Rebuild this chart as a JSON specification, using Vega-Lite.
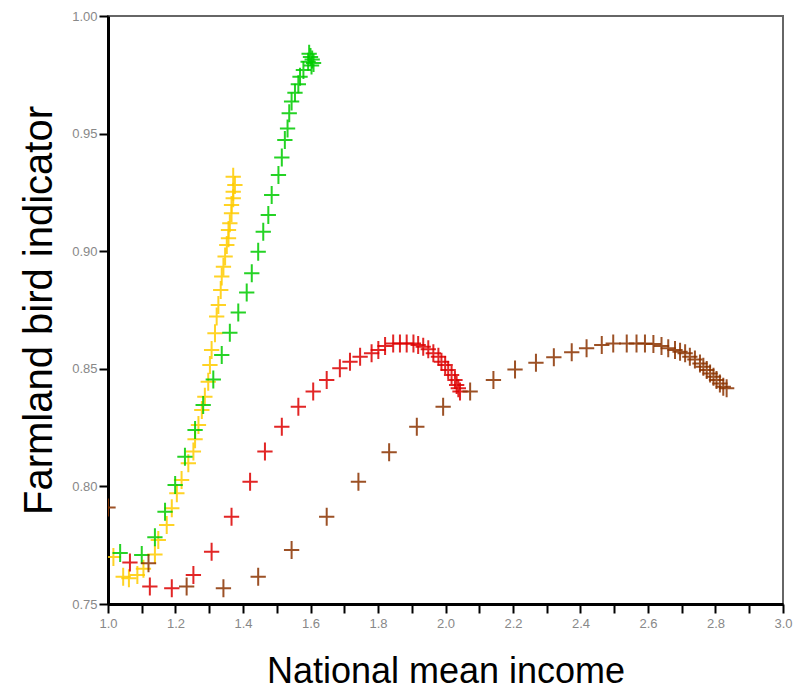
{
  "$schema": "https://vega.github.io/schema/vega-lite/v6.json",
  "width": 675,
  "height": 588,
  "autosize": {"type": "none"},
  "padding": {"left": 108, "top": 16, "right": 24, "bottom": 96},
  "background": "white",
  "config": {
    "view": {"stroke": "#666666", "strokeWidth": 2},
    "font": "Liberation Sans",
    "axis": {
      "zindex": 1,
      "ticks": true,
      "tickSize": 9,
      "tickColor": "#000000",
      "tickWidth": 2,
      "domainColor": "#000000",
      "domainWidth": 3,
      "grid": false,
      "labelFont": "Liberation Sans",
      "labelFontSize": 13,
      "labelColor": "#888888",
      "labelOverlap": false,
      "labelFlush": false,
      "titleFont": "Liberation Sans",
      "titleFontWeight": "normal",
      "titleColor": "#000000"
    }
  },
  "data": {
    "values": [
      {"s": "A", "x": 1.016, "y": 0.770},
      {"s": "A", "x": 1.045, "y": 0.7616},
      {"s": "A", "x": 1.062, "y": 0.761},
      {"s": "A", "x": 1.087, "y": 0.7623},
      {"s": "A", "x": 1.105, "y": 0.765},
      {"s": "A", "x": 1.139, "y": 0.771},
      {"s": "A", "x": 1.149, "y": 0.7772},
      {"s": "A", "x": 1.174, "y": 0.7836},
      {"s": "A", "x": 1.189, "y": 0.7907},
      {"s": "A", "x": 1.204, "y": 0.7971},
      {"s": "A", "x": 1.218, "y": 0.8027},
      {"s": "A", "x": 1.238, "y": 0.8098},
      {"s": "A", "x": 1.253, "y": 0.8148},
      {"s": "A", "x": 1.258, "y": 0.82},
      {"s": "A", "x": 1.268, "y": 0.8261},
      {"s": "A", "x": 1.278, "y": 0.8325},
      {"s": "A", "x": 1.287, "y": 0.8381},
      {"s": "A", "x": 1.297, "y": 0.8445},
      {"s": "A", "x": 1.302, "y": 0.8516},
      {"s": "A", "x": 1.307, "y": 0.858},
      {"s": "A", "x": 1.317, "y": 0.8651},
      {"s": "A", "x": 1.322, "y": 0.8722},
      {"s": "A", "x": 1.327, "y": 0.8771},
      {"s": "A", "x": 1.334, "y": 0.8835},
      {"s": "A", "x": 1.337, "y": 0.8892},
      {"s": "A", "x": 1.342, "y": 0.8934},
      {"s": "A", "x": 1.347, "y": 0.8977},
      {"s": "A", "x": 1.352, "y": 0.9026},
      {"s": "A", "x": 1.357, "y": 0.9055},
      {"s": "A", "x": 1.357, "y": 0.909},
      {"s": "A", "x": 1.361, "y": 0.9119},
      {"s": "A", "x": 1.366, "y": 0.9161},
      {"s": "A", "x": 1.366, "y": 0.9196},
      {"s": "A", "x": 1.371, "y": 0.9225},
      {"s": "A", "x": 1.371, "y": 0.9253},
      {"s": "A", "x": 1.376, "y": 0.9281},
      {"s": "A", "x": 1.371, "y": 0.9317},
      {"s": "B", "x": 1.036, "y": 0.7717},
      {"s": "B", "x": 1.10, "y": 0.7708},
      {"s": "B", "x": 1.139, "y": 0.7784},
      {"s": "B", "x": 1.169, "y": 0.7892},
      {"s": "B", "x": 1.199, "y": 0.8006},
      {"s": "B", "x": 1.228, "y": 0.8126},
      {"s": "B", "x": 1.258, "y": 0.824},
      {"s": "B", "x": 1.282, "y": 0.8346},
      {"s": "B", "x": 1.312, "y": 0.8455},
      {"s": "B", "x": 1.337, "y": 0.8559},
      {"s": "B", "x": 1.361, "y": 0.8653},
      {"s": "B", "x": 1.386, "y": 0.8739},
      {"s": "B", "x": 1.411, "y": 0.8824},
      {"s": "B", "x": 1.426, "y": 0.8906},
      {"s": "B", "x": 1.445, "y": 0.8998},
      {"s": "B", "x": 1.46, "y": 0.9083},
      {"s": "B", "x": 1.475, "y": 0.9154},
      {"s": "B", "x": 1.485, "y": 0.9239},
      {"s": "B", "x": 1.505, "y": 0.9324},
      {"s": "B", "x": 1.515, "y": 0.9398},
      {"s": "B", "x": 1.524, "y": 0.9473},
      {"s": "B", "x": 1.532, "y": 0.9522},
      {"s": "B", "x": 1.537, "y": 0.9586},
      {"s": "B", "x": 1.544, "y": 0.9636},
      {"s": "B", "x": 1.554, "y": 0.9674},
      {"s": "B", "x": 1.564, "y": 0.971},
      {"s": "B", "x": 1.569, "y": 0.9742},
      {"s": "B", "x": 1.579, "y": 0.977},
      {"s": "B", "x": 1.593, "y": 0.9806},
      {"s": "B", "x": 1.600, "y": 0.9826},
      {"s": "B", "x": 1.596, "y": 0.984},
      {"s": "B", "x": 1.605, "y": 0.9815},
      {"s": "B", "x": 1.609, "y": 0.98},
      {"s": "B", "x": 1.603, "y": 0.979},
      {"s": "C", "x": 1.065, "y": 0.7676},
      {"s": "C", "x": 1.124, "y": 0.7574},
      {"s": "C", "x": 1.189, "y": 0.7567},
      {"s": "C", "x": 1.253, "y": 0.7623},
      {"s": "C", "x": 1.307, "y": 0.7722},
      {"s": "C", "x": 1.366, "y": 0.7871},
      {"s": "C", "x": 1.421, "y": 0.802},
      {"s": "C", "x": 1.465, "y": 0.8148},
      {"s": "C", "x": 1.515, "y": 0.8254},
      {"s": "C", "x": 1.564, "y": 0.8339},
      {"s": "C", "x": 1.608, "y": 0.8403},
      {"s": "C", "x": 1.648, "y": 0.8452},
      {"s": "C", "x": 1.687, "y": 0.8502},
      {"s": "C", "x": 1.717, "y": 0.853},
      {"s": "C", "x": 1.747, "y": 0.8551},
      {"s": "C", "x": 1.781, "y": 0.8566},
      {"s": "C", "x": 1.801, "y": 0.858},
      {"s": "C", "x": 1.821, "y": 0.8597},
      {"s": "C", "x": 1.845, "y": 0.8608},
      {"s": "C", "x": 1.865, "y": 0.8608},
      {"s": "C", "x": 1.885, "y": 0.8608},
      {"s": "C", "x": 1.905, "y": 0.8608},
      {"s": "C", "x": 1.919, "y": 0.8601},
      {"s": "C", "x": 1.934, "y": 0.8594},
      {"s": "C", "x": 1.949, "y": 0.8583},
      {"s": "C", "x": 1.964, "y": 0.8566},
      {"s": "C", "x": 1.979, "y": 0.8551},
      {"s": "C", "x": 1.988, "y": 0.853},
      {"s": "C", "x": 1.999, "y": 0.8516},
      {"s": "C", "x": 2.008, "y": 0.8495},
      {"s": "C", "x": 2.018, "y": 0.8474},
      {"s": "C", "x": 2.028, "y": 0.8452},
      {"s": "C", "x": 2.033, "y": 0.8431},
      {"s": "C", "x": 2.038, "y": 0.8417},
      {"s": "C", "x": 2.043, "y": 0.8403},
      {"s": "D", "x": 1.0, "y": 0.791},
      {"s": "D", "x": 1.12, "y": 0.7673},
      {"s": "D", "x": 1.233, "y": 0.7574},
      {"s": "D", "x": 1.342, "y": 0.7567},
      {"s": "D", "x": 1.445, "y": 0.7616},
      {"s": "D", "x": 1.544, "y": 0.773},
      {"s": "D", "x": 1.648, "y": 0.7871},
      {"s": "D", "x": 1.742, "y": 0.802},
      {"s": "D", "x": 1.833, "y": 0.8145},
      {"s": "D", "x": 1.915, "y": 0.8254},
      {"s": "D", "x": 1.993, "y": 0.8339},
      {"s": "D", "x": 2.073, "y": 0.8403},
      {"s": "D", "x": 2.142, "y": 0.8452},
      {"s": "D", "x": 2.206, "y": 0.8497},
      {"s": "D", "x": 2.268, "y": 0.8526},
      {"s": "D", "x": 2.321, "y": 0.8549},
      {"s": "D", "x": 2.374, "y": 0.857},
      {"s": "D", "x": 2.418, "y": 0.8587},
      {"s": "D", "x": 2.463, "y": 0.8601},
      {"s": "D", "x": 2.497, "y": 0.8608},
      {"s": "D", "x": 2.537, "y": 0.8608},
      {"s": "D", "x": 2.566, "y": 0.8608},
      {"s": "D", "x": 2.591, "y": 0.8608},
      {"s": "D", "x": 2.616, "y": 0.8605},
      {"s": "D", "x": 2.64, "y": 0.8597},
      {"s": "D", "x": 2.66, "y": 0.8587},
      {"s": "D", "x": 2.68, "y": 0.858},
      {"s": "D", "x": 2.695, "y": 0.8573},
      {"s": "D", "x": 2.71, "y": 0.8566},
      {"s": "D", "x": 2.724, "y": 0.8551},
      {"s": "D", "x": 2.739, "y": 0.854},
      {"s": "D", "x": 2.754, "y": 0.8523},
      {"s": "D", "x": 2.764, "y": 0.8509},
      {"s": "D", "x": 2.774, "y": 0.8495},
      {"s": "D", "x": 2.784, "y": 0.848},
      {"s": "D", "x": 2.794, "y": 0.8466},
      {"s": "D", "x": 2.803, "y": 0.8452},
      {"s": "D", "x": 2.813, "y": 0.8438},
      {"s": "D", "x": 2.823, "y": 0.8424},
      {"s": "D", "x": 2.833, "y": 0.8417}
    ]
  },
  "mark": {
    "type": "point",
    "shape": "M-0.85,0H0.85M0,-1V1",
    "filled": false,
    "strokeWidth": 2,
    "size": 324,
    "opacity": 0.85,
    "clip": true
  },
  "encoding": {
    "x": {
      "field": "x",
      "type": "quantitative",
      "scale": {"domain": [1, 3], "nice": false, "zero": false},
      "axis": {
        "title": "National mean income",
        "titleFontSize": 36,
        "titlePadding": 24,
        "values": [1.0, 1.1, 1.2, 1.3, 1.4, 1.5, 1.6, 1.7, 1.8, 1.9, 2.0, 2.1, 2.2, 2.3, 2.4, 2.5, 2.6, 2.7, 2.8, 2.9, 3.0],
        "labelExpr": "round(datum.value*10) % 2 == 0 ? format(datum.value, '.1f') : ''",
        "labelPadding": 4
      }
    },
    "y": {
      "field": "y",
      "type": "quantitative",
      "scale": {"domain": [0.75, 1.0], "nice": false, "zero": false},
      "axis": {
        "title": "Farmland bird indicator",
        "titleFontSize": 40,
        "titlePadding": 12,
        "values": [0.75, 0.8, 0.85, 0.9, 0.95, 1.0],
        "format": ".2f",
        "labelPadding": 2
      }
    },
    "color": {
      "field": "s",
      "type": "nominal",
      "scale": {"domain": ["A", "B", "C", "D"], "range": ["#FFCC00", "#00CC00", "#DD0000", "#8B3300"]},
      "legend": null
    }
  }
}
